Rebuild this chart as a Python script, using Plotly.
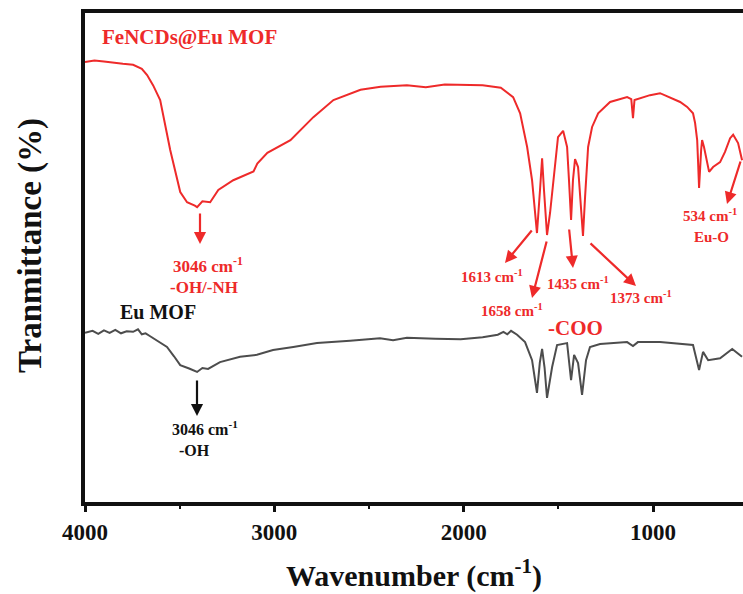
import plotly.graph_objects as go

# ---------------- data ----------------
fe_wn = [4000, 3950, 3900, 3850, 3800, 3746, 3700, 3672, 3640, 3603, 3550, 3497, 3461,
         3420, 3408, 3380, 3339, 3296, 3217, 3110, 3101, 3090, 3037, 2915, 2794, 2688,
         2545, 2439, 2300, 2200, 2100, 2016, 1900, 1804, 1739, 1702, 1665, 1639, 1623,
         1613, 1597, 1586, 1576, 1560, 1544, 1518, 1502, 1475, 1454, 1444, 1433, 1423,
         1412, 1396, 1380, 1370, 1359, 1343, 1322, 1290, 1227, 1137, 1115, 1106, 1098,
         1016, 963, 857, 820, 789, 778, 767, 762, 757, 746, 741, 731, 715, 704, 683,
         646, 620, 593, 577, 551, 530]
fe_tr = [90.0, 90.3, 90.1, 89.8, 89.6, 89.4, 88.6, 87.3, 85.2, 82.2, 72.0, 63.4, 61.3,
         60.6, 60.3, 61.5, 61.3, 63.8, 65.8, 67.6, 68.3, 69.2, 71.4, 74.0, 78.7, 82.2,
         84.3, 84.9, 85.2, 84.8, 85.4, 85.3, 85.2, 84.7, 82.8, 79.5, 72.6, 65.8, 59.1,
         55.0, 63.8, 70.3, 63.8, 54.6, 59.1, 69.3, 74.6, 75.9, 72.6, 65.8, 57.7, 65.8,
         70.1, 68.5, 60.3, 54.4, 62.4, 72.6, 76.7, 79.5, 81.8, 82.8, 82.4, 78.5, 82.2,
         83.2, 83.6, 81.8, 80.8, 79.5, 77.5, 74.0, 69.3, 64.2, 72.0, 74.0, 72.6, 69.3,
         67.5, 68.5, 69.5, 71.6, 74.4, 75.1, 73.4, 69.9]

eu_wn = [4000, 3960, 3930, 3900, 3870, 3840, 3810, 3780, 3746, 3720, 3700, 3680, 3660,
         3640, 3620, 3600, 3567, 3530, 3497, 3450, 3408, 3380, 3350, 3287, 3181, 3092,
         3007, 2900, 2775, 2600, 2442, 2373, 2300, 2150, 2016, 1900, 1820, 1790, 1770,
         1750, 1718, 1676, 1639, 1623, 1613, 1598, 1586, 1573, 1560, 1533, 1507, 1454,
         1449, 1433, 1417, 1396, 1375, 1354, 1333, 1280, 1137, 1106, 1080, 963, 789,
         757, 736, 709, 646, 582, 530]
eu_tr = [34.6, 35.0, 34.4, 35.1, 34.6, 35.2, 34.5, 34.9, 34.8, 35.3, 34.3, 34.5, 34.0,
         33.5, 33.1, 32.6, 31.7, 29.8, 28.0, 27.3, 26.6, 27.4, 27.2, 28.6, 29.7, 30.1,
         31.1, 31.7, 32.5, 33.0, 33.5, 33.1, 33.6, 33.4, 33.3, 33.7, 34.2, 34.8, 34.3,
         35.0, 34.2, 32.7, 29.0, 24.9, 22.3, 28.5, 31.3, 27.5, 21.3, 27.6, 32.1, 32.5,
         30.5, 24.9, 30.1, 28.4, 21.9, 29.0, 31.7, 32.3, 32.7, 31.9, 32.7, 32.7, 32.1,
         27.0, 30.7, 29.0, 29.4, 31.3, 29.7]

x_ticks = [4000, 3000, 2000, 1000]
series_names = ["FeNCDs@Eu MOF", "Eu MOF"]

RED = "#ee2a2a"
GRAY = "#4d4d4d"
INK = "#111111"
FONT = "Liberation Serif, Times New Roman, serif"

# plot-area geometry in pixels (for annotation placement)
W, H = 743, 594
L, R, T, B = 85, 0, 13, 92
PW, PH = W - L - R, H - T - B


def px(xp):
    return (xp - L) / PW


def py(yp):
    return (H - B - yp) / PH


fig = go.Figure()
fig.add_trace(go.Scatter(x=fe_wn, y=fe_tr, mode="lines", name=series_names[0],
                         line=dict(color=RED, width=2), showlegend=False))
fig.add_trace(go.Scatter(x=eu_wn, y=eu_tr, mode="lines", name=series_names[1],
                         line=dict(color=GRAY, width=2), showlegend=False))

ann = []


def text(xp, yp, s, color, size, xanchor="center", angle=0):
    ann.append(dict(x=px(xp), y=py(yp), xref="paper", yref="paper", text=s,
                    showarrow=False, xanchor=xanchor, yanchor="middle", textangle=angle,
                    font=dict(family=FONT, size=size, color=color, weight="bold")))


def arrow(tx, ty, hx, hy, color):
    ann.append(dict(x=px(hx), y=py(hy), xref="paper", yref="paper", text="",
                    showarrow=True, ax=tx - hx, ay=ty - hy, axref="pixel", ayref="pixel",
                    arrowhead=2, arrowsize=1.1, arrowwidth=2.2, arrowcolor=color))


text(100, 37, series_names[0], RED, 21, xanchor="left")
arrow(200, 212, 200, 244, RED)
text(208, 265, "3046 cm<sup>-1</sup>", RED, 17)
text(204, 287, "-OH/-NH", RED, 17)

text(118, 312, series_names[1], INK, 20, xanchor="left")
arrow(197, 379, 197, 416, INK)
text(205, 428, "3046 cm<sup>-1</sup>", INK, 16)
text(194, 450, "-OH", INK, 16)

arrow(533, 229, 505, 263, RED)
text(492, 276, "1613 cm<sup>-1</sup>", RED, 15)
arrow(547, 240, 532, 298, RED)
text(512, 310, "1658 cm<sup>-1</sup>", RED, 15)
arrow(569, 228, 573, 268, RED)
text(578, 283, "1435 cm<sup>-1</sup>", RED, 15)
arrow(589, 242, 636, 286, RED)
text(641, 297, "1373 cm<sup>-1</sup>", RED, 15)
arrow(741, 160, 727, 204, RED)
text(710, 215, "534 cm<sup>-1</sup>", RED, 15)
text(711, 237, "Eu-O", RED, 15)
text(575, 328, "-COO", RED, 21)

# y-axis title placed as rotated text
text(31, 246, "Tranmittance (%)", INK, 33, angle=-90)

fig.update_layout(
    width=W, height=H,
    margin=dict(l=L, r=R, t=T, b=B, autoexpand=False),
    paper_bgcolor="white", plot_bgcolor="white",
    font=dict(family=FONT, color=INK),
    annotations=ann,
    xaxis=dict(range=[4000, 525], tickvals=x_ticks, ticktext=[str(v) for v in x_ticks],
               showgrid=False, zeroline=False, showline=True, linecolor=INK,
               linewidth=4, mirror=True, ticks="outside", ticklen=6, tickwidth=3,
               tickcolor=INK,
               minor=dict(dtick=500, tick0=0, ticks="outside", ticklen=3, tickwidth=2,
                          tickcolor=INK),
               tickfont=dict(family=FONT, size=23, weight="bold", color=INK),
               title=dict(text="Wavenumber (cm<sup>-1</sup>)", standoff=22,
                          font=dict(family=FONT, size=30, weight="bold", color=INK))),
    yaxis=dict(range=[0, 100], showgrid=False, zeroline=False, showline=True,
               linecolor=INK, linewidth=4, mirror=False, ticks="",
               showticklabels=False),
)

fig.write_html("out.html", config={"displayModeBar": False},
               post_script="document.body.style.margin='0';document.body.style.padding='0';")
